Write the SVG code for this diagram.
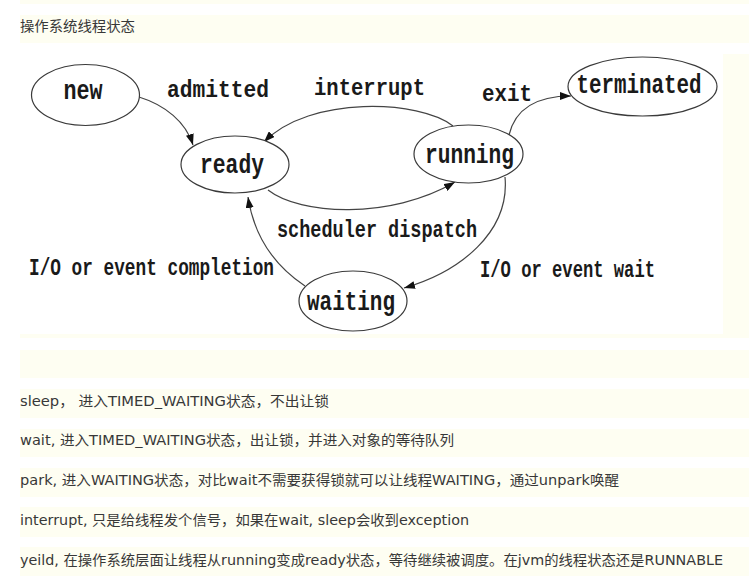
<svg xmlns="http://www.w3.org/2000/svg" width="749" height="588" viewBox="0 0 749 588">
<defs>
<style>
.band{fill:#fefef2}
.txt{font-family:"DejaVu Sans","Noto Sans CJK SC",sans-serif;font-size:14px;fill:#383838}
.node ellipse{fill:#fff;stroke:#3a3a3a;stroke-width:1.2}
.ntxt{font-family:"Liberation Mono","Courier New",monospace;font-weight:bold;font-size:27px;fill:#1a1a1a;text-anchor:middle}
.lbl{font-family:"Liberation Mono","Courier New",monospace;font-weight:bold;font-size:23px;fill:#1a1a1a}
.edge{fill:none;stroke:#444;stroke-width:1.2;marker-end:url(#arr)}
</style>
<marker id="arr" markerUnits="userSpaceOnUse" markerWidth="11" markerHeight="8" refX="11" refY="4" orient="auto">
<path d="M0,0 L11,4 L0,8 z" fill="#111"/>
</marker>
</defs>
<rect width="749" height="588" fill="#fff"/>
<g id="page-bands">
<rect class="band" x="20" y="0" width="729" height="4"/>
<rect class="band" x="20" y="15" width="729" height="28"/>
<rect class="band" x="20" y="54" width="729" height="284"/>
<rect x="20" y="54" width="703" height="280" fill="#fff"/>
<rect class="band" x="20" y="350" width="729" height="28"/>
<rect class="band" x="20" y="389" width="729" height="29"/>
<rect class="band" x="20" y="429" width="729" height="28"/>
<rect class="band" x="20" y="468" width="729" height="29"/>
<rect class="band" x="20" y="507" width="729" height="30"/>
<rect class="band" x="20" y="547" width="729" height="29"/>
</g>
<text class="txt" x="20" y="31" textLength="115" lengthAdjust="spacingAndGlyphs">操作系统线程状态</text>
<g id="connectors">
<path class="edge" d="M139,97 C165,105 186,122 193,145"/>
<path class="edge" d="M453,126 C420,100 310,95 264,142"/>
<path class="edge" d="M268,190 C300,215 390,220 455,182"/>
<path class="edge" d="M509,135 C515,110 535,96 571,96"/>
<path class="edge" d="M505,177 C510,232 460,272 404,288"/>
<path class="edge" d="M305,286 C275,266 254,236 248,197"/>
<text class="lbl" x="167" y="97" textLength="102" lengthAdjust="spacingAndGlyphs">admitted</text>
<text class="lbl" x="314" y="95" textLength="111" lengthAdjust="spacingAndGlyphs">interrupt</text>
<text class="lbl" x="482" y="101" textLength="50" lengthAdjust="spacingAndGlyphs">exit</text>
<text class="lbl" x="277" y="237" textLength="200" lengthAdjust="spacingAndGlyphs">scheduler dispatch</text>
<text class="lbl" x="29" y="275" textLength="245" lengthAdjust="spacingAndGlyphs">I/O or event completion</text>
<text class="lbl" x="480" y="277" textLength="175" lengthAdjust="spacingAndGlyphs">I/O or event wait</text>
</g>
<g id="new" class="node">
<ellipse cx="85.5" cy="95" rx="54" ry="30.5"/>
<text class="ntxt" x="83" y="99" textLength="39" lengthAdjust="spacingAndGlyphs">new</text>
</g>
<g id="ready" class="node">
<ellipse cx="235" cy="164.5" rx="54" ry="28.5"/>
<text class="ntxt" x="232" y="173" textLength="64" lengthAdjust="spacingAndGlyphs">ready</text>
</g>
<g id="running" class="node">
<ellipse cx="468.5" cy="154" rx="54.5" ry="29"/>
<text class="ntxt" x="469.5" y="163" textLength="89" lengthAdjust="spacingAndGlyphs">running</text>
</g>
<g id="terminated" class="node">
<ellipse cx="642.5" cy="86.5" rx="74.5" ry="29.5"/>
<text class="ntxt" x="639" y="93" textLength="125" lengthAdjust="spacingAndGlyphs">terminated</text>
</g>
<g id="waiting" class="node">
<ellipse cx="353" cy="301" rx="54" ry="30"/>
<text class="ntxt" x="351" y="310" textLength="88" lengthAdjust="spacingAndGlyphs">waiting</text>
</g>
<g id="notes">
<text class="txt" x="20" y="405.5" textLength="309" lengthAdjust="spacingAndGlyphs">sleep， 进入TIMED_WAITING状态，不出让锁</text>
<text class="txt" x="20" y="445" textLength="434" lengthAdjust="spacingAndGlyphs">wait, 进入TIMED_WAITING状态，出让锁，并进入对象的等待队列</text>
<text class="txt" x="20" y="484.5" textLength="599" lengthAdjust="spacingAndGlyphs">park, 进入WAITING状态，对比wait不需要获得锁就可以让线程WAITING，通过unpark唤醒</text>
<text class="txt" x="20" y="524.5" textLength="449" lengthAdjust="spacingAndGlyphs">interrupt, 只是给线程发个信号，如果在wait, sleep会收到exception</text>
<text class="txt" x="20" y="564.5" textLength="703" lengthAdjust="spacingAndGlyphs">yeild, 在操作系统层面让线程从running变成ready状态，等待继续被调度。在jvm的线程状态还是RUNNABLE</text>
</g>
</svg>
